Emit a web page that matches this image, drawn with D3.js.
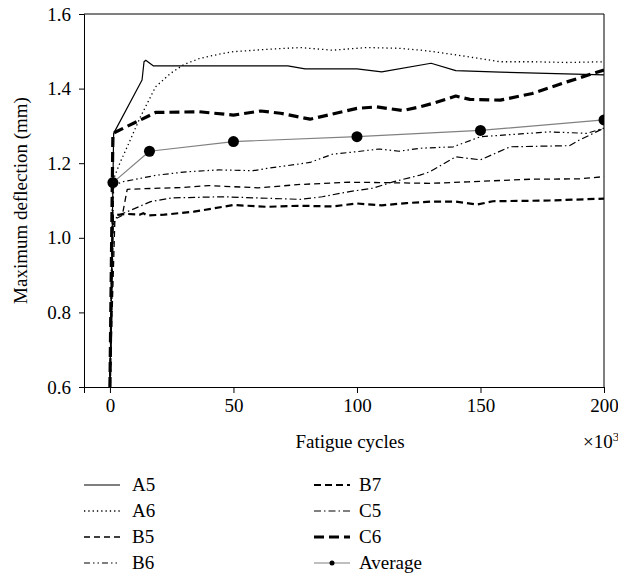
<!DOCTYPE html>
<html><head><meta charset="utf-8">
<script src="https://cdn.jsdelivr.net/npm/d3@7"></script>
</head>
<body style="margin:0"><svg id="c" width="618" height="578"></svg>
<script>
// Fatigue cycles (x10^3) and maximum deflection (mm)
const seriesNames = ["A5","A6","B5","B6","B7","C5","C6","Average"];
const A5 = [[0,0.6],[1.5,1.28],[13,1.423],[13.8,1.472],[14.5,1.476],[17.5,1.461],[72,1.461],[79,1.453],[100,1.453],[110,1.445],[130,1.468],[140,1.448],[158,1.444],[200,1.437]];
const A6 = [[0,0.6],[1,1.15],[4,1.2],[7,1.244],[12.4,1.325],[18.5,1.405],[24.6,1.441],[30,1.465],[36.4,1.481],[44,1.492],[50,1.499],[63,1.505],[77,1.51],[90,1.503],[104,1.51],[117,1.508],[126,1.503],[131,1.499],[144.5,1.486],[158,1.472],[171,1.472],[185,1.47],[200,1.472]];
const B5 = [[0,0.6],[2,1.05],[5,1.06],[7,1.13],[20,1.133],[30,1.135],[40,1.14],[60,1.134],[77,1.143],[97,1.149],[110,1.148],[130,1.146],[145,1.15],[170,1.157],[190,1.158],[200,1.164]];
const B6 = [[0,0.6],[1.5,1.14],[5,1.15],[19,1.168],[31,1.177],[44,1.182],[58,1.18],[63.5,1.186],[81,1.202],[90,1.224],[100,1.231],[109,1.238],[117,1.232],[125.5,1.24],[139,1.244],[150,1.271],[160.7,1.276],[178,1.284],[193,1.28],[200,1.294]];
const B7 = [[0,0.6],[1.2,1.06],[7,1.064],[12,1.062],[13.5,1.066],[15,1.06],[22,1.062],[34,1.07],[50,1.088],[63.5,1.083],[77,1.086],[90,1.084],[100,1.092],[110,1.087],[120,1.093],[130,1.097],[140,1.097],[148.6,1.089],[155,1.098],[178,1.1],[200,1.105]];
const C5 = [[0,0.6],[1,1.03],[3,1.06],[7,1.07],[16.5,1.097],[25,1.107],[46,1.11],[77,1.103],[86,1.11],[97,1.124],[106.5,1.133],[114.6,1.15],[125.5,1.168],[129.5,1.177],[140,1.217],[150,1.209],[162,1.244],[186,1.247],[190,1.262],[200,1.294]];
const C6 = [[0,0.6],[1.2,1.28],[18.5,1.336],[36,1.338],[50,1.329],[61,1.34],[69,1.334],[81,1.318],[100,1.347],[108,1.351],[118.6,1.341],[125.5,1.351],[131,1.361],[140,1.38],[145.7,1.371],[158,1.369],[171,1.387],[185,1.418],[200,1.45]];
const Average = [[1.2,1.148],[16,1.232],[50,1.258],[100,1.271],[150,1.288],[200,1.316]];
const xTicks = [0,50,100,150,200];
const yTicks = [0.6,0.8,1.0,1.2,1.4,1.6];

const FONT = '"Liberation Serif"';
const FS = 19;
const svg = d3.select("#c");
const L=84, R=604, T=14, B=387;
const x = d3.scaleLinear().domain([-10.5,200]).range([L,R]);
const y = d3.scaleLinear().domain([0.6,1.6]).range([B,T]);

svg.append("clipPath").attr("id","clip").append("rect")
  .attr("x",L).attr("y",T).attr("width",R-L).attr("height",B-T);

const styles = {
  A5:{w:1.2,dash:null},
  A6:{w:1.3,dash:"1.3,3"},
  B5:{w:1.3,dash:"6,4"},
  B6:{w:1.2,dash:"6,3,1.5,3,1.5,3"},
  B7:{w:2.2,dash:"7,4"},
  C5:{w:1.2,dash:"7,3,1.5,3"},
  C6:{w:3.2,dash:"10,5"},
  Average:{w:1.2,dash:null,color:"#808080"}
};
const data = {A5,A6,B5,B6,B7,C5,C6,Average};
const line = d3.line().x(d=>x(d[0])).y(d=>y(d[1]));

// frame
svg.append("line").attr("x1",L).attr("x2",R).attr("y1",T).attr("y2",T).attr("stroke","#000").attr("stroke-width",1);
svg.append("line").attr("x1",R).attr("x2",R).attr("y1",T).attr("y2",B).attr("stroke","#000").attr("stroke-width",1);

const gx = svg.append("g").attr("transform",`translate(0,${B})`)
  .call(d3.axisBottom(x).tickValues(xTicks).tickSize(6).tickPadding(6).tickFormat(d3.format("d")));
const gy = svg.append("g").attr("transform",`translate(${L},0)`)
  .call(d3.axisLeft(y).tickValues(yTicks).tickSize(5).tickPadding(8).tickFormat(d3.format(".1f")));
[gx,gy].forEach(g=>{
  g.attr("font-family",FONT).attr("font-size",FS);
  g.selectAll("path,line").attr("stroke","#000").attr("stroke-width",1);
  g.selectAll("text").attr("font-family",FONT).attr("font-size",FS).attr("fill","#000");
});

const plot = svg.append("g").attr("clip-path","url(#clip)");
seriesNames.forEach(n=>{
  const s = styles[n];
  plot.append("path").datum(data[n]).attr("d",line)
    .attr("fill","none").attr("stroke",s.color||"#000").attr("stroke-width",s.w)
    .attr("stroke-dasharray",s.dash).attr("stroke-linejoin","round");
});
plot.selectAll("circle.avg").data(Average).join("circle").attr("class","avg")
  .attr("cx",d=>x(d[0])).attr("cy",d=>y(d[1])).attr("r",5.5).attr("fill","#000");

function txt(sel){ return sel.attr("font-family",FONT).attr("font-size",FS).attr("fill","#000"); }
// axis titles
txt(svg.append("text")).attr("x",350).attr("y",448).attr("text-anchor","middle").text("Fatigue cycles");
const t10 = txt(svg.append("text")).attr("x",583).attr("y",448);
t10.append("tspan").text("×10");
t10.append("tspan").attr("dy",-7).attr("font-size",13).text("3");
txt(svg.append("text")).attr("transform",`translate(27,${(T+B)/2}) rotate(-90)`).attr("text-anchor","middle")
  .text("Maximum deflection (mm)");

// legend
const legRows=[485,511,537,563];
seriesNames.forEach((n,i)=>{
  const col = i<4?0:1, row=i%4;
  const lx = col===0?84:314, ly = legRows[row];
  const s = styles[n];
  const g = svg.append("g");
  g.append("line").attr("x1",lx).attr("x2",lx+36).attr("y1",ly).attr("y2",ly)
    .attr("stroke",s.color||"#000").attr("stroke-width",s.w).attr("stroke-dasharray",s.dash);
  if(n==="Average") g.append("circle").attr("cx",lx+18).attr("cy",ly).attr("r",2.5).attr("fill","#000");
  txt(g.append("text")).attr("x",col===0?132:359).attr("y",ly+6).text(n);
});
</script></body></html>
